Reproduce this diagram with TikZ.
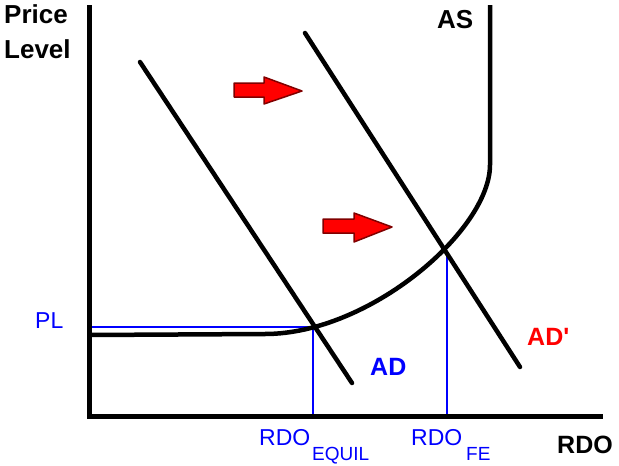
\documentclass[tikz,border=0pt]{standalone}
\usepackage{fontspec}
\setmainfont{Liberation Sans}
\begin{document}
\begin{tikzpicture}[x=1pt,y=-1pt,
  curve/.style={line width=4.5pt,line cap=round,black},
  guide/.style={line width=2pt,blue},
  bigbold/.style={inner sep=0pt,anchor=base west,font=\fontsize{26}{30}\selectfont\bfseries},
  bluelbl/.style={inner sep=0pt,anchor=base west,text=blue,font=\fontsize{23}{26}\selectfont},
  sublbl/.style={inner sep=0pt,anchor=base west,text=blue,font=\fontsize{19}{20}\selectfont},
  shiftarrow/.style={fill=red,draw=red!50!black,line width=1.5pt,line join=round}]
\useasboundingbox (0,0) rectangle (619,466);
% key points
\coordinate (origin) at (89,416);
\coordinate (ytop) at (89,5);
\coordinate (xend) at (603,416);
\coordinate (eq) at (313,327);
\coordinate (fe) at (447,253);
\coordinate (eqx) at (313,416);
\coordinate (fex) at (447,416);
\coordinate (ply) at (89,327);
\coordinate (adtop) at (140,62);
\coordinate (adbot) at (352,383);
\coordinate (adptop) at (305,33);
\coordinate (adpbot) at (520,367);
% guides
\draw[guide] (ply) -- (eq) -- (eqx);
\draw[guide] (fe) -- (fex);
% axes
\draw[line width=5pt] (ytop) -- (89,418);
\draw[line width=5pt] (87,416) -- (xend);
% AS curve
\draw[curve,line cap=butt,line join=round] (90,335) -- (265,334) .. controls (370,334) and (490,230) .. (490,165) -- (490,5);
% AD lines
\draw[curve] (adtop) -- (adbot);
\draw[curve] (adptop) -- (adpbot);
% arrows
\draw[shiftarrow] (234,83) -- (264,83) -- (264,77) -- (302,91) -- (264,104) -- (264,97) -- (234,97) -- cycle;
\draw[shiftarrow] (323,219) -- (354,219) -- (354,213) -- (392,227) -- (354,242) -- (354,233) -- (323,233) -- cycle;
% labels
\node[bigbold] (price) at (4,23) {Price};
\node[bigbold] (level) at (4,58) {Level};
\node[bigbold] (as) at (437,28) {AS};
\node[bigbold,text=blue,font=\fontsize{25}{28}\selectfont\bfseries] (ad) at (370,375) {AD};
\node[bigbold,text=red,font=\fontsize{25}{28}\selectfont\bfseries] (adp) at (527,345) {AD\textquotesingle};
\node[bigbold,font=\fontsize{25}{28}\selectfont\bfseries] (rdo) at (557,453) {RDO};
\node[bluelbl] (pl) at (35,328) {PL};
\node[bluelbl] (rdoeq) at (259,445) {RDO};
\node[sublbl] (equil) at (312,460) {EQUIL};
\node[bluelbl] (rdofe) at (411,445) {RDO};
\node[sublbl] (fesub) at (466,460) {FE};
\end{tikzpicture}
\end{document}
